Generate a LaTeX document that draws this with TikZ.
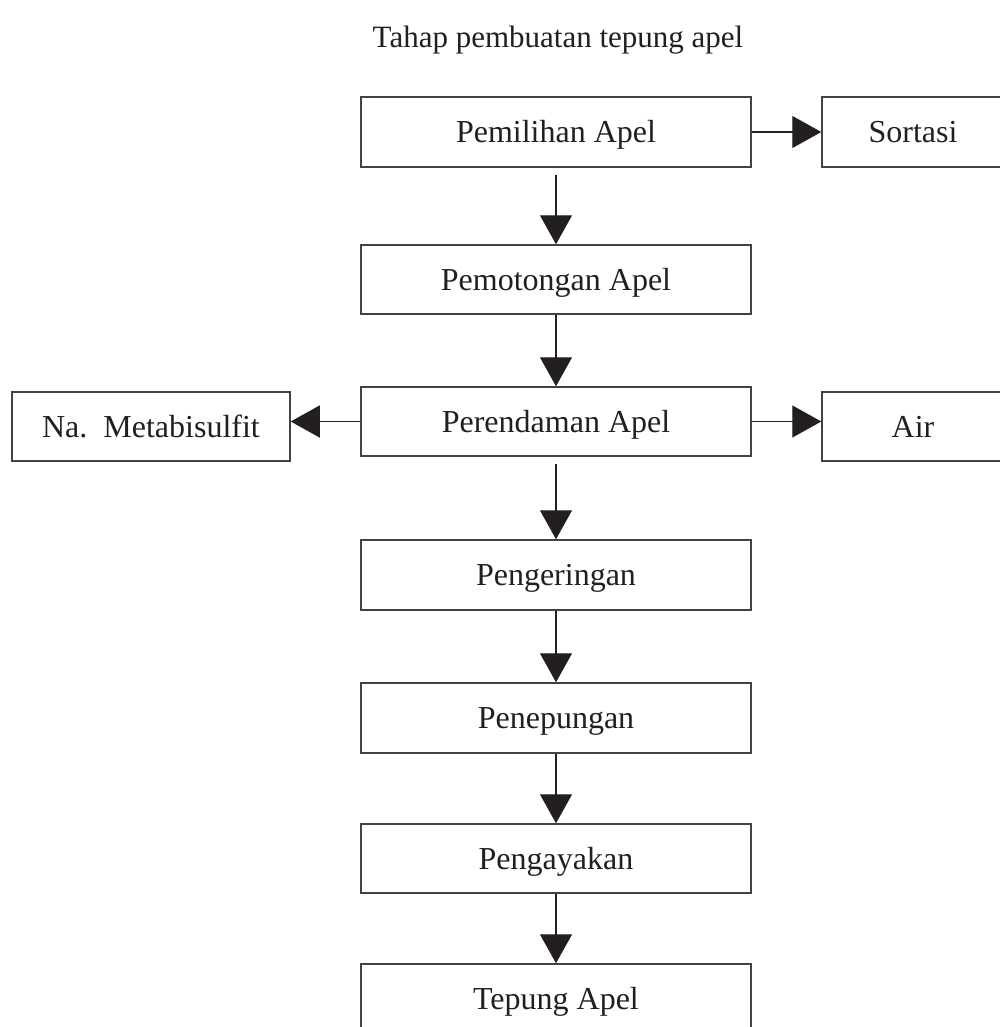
\documentclass[tikz,border=0pt]{standalone}
\usepackage{fontspec}
\setmainfont{Liberation Serif}
\usetikzlibrary{arrows.meta}
\definecolor{ink}{HTML}{231F20}
\begin{document}
\begin{tikzpicture}[x=1pt,y=-1pt,
  box/.style={draw=ink!85, line width=1.5pt, inner sep=0pt, minimum width=390pt, minimum height=70pt, text=ink, text height=21pt, text depth=0pt, font=\fontsize{32}{36}\selectfont},
  sidebox/.style={box, minimum width=182pt},
  flow/.style={draw=ink, line width=1.3pt, -{Triangle[length=29pt,width=32pt]}}]
\useasboundingbox (0,0) rectangle (1000,1027);
\clip (0,0) rectangle (1000,1027);
\fill[white] (0,0) rectangle (1000,1027);
\node[text=ink, font=\fontsize{31}{36}\selectfont] (title) at (558,40) {Tahap pembuatan tepung apel};
\node[box] (pemilihan) at (556,132) {Pemilihan Apel};
\node[sidebox] (sortasi) at (913,132) {Sortasi};
\node[box, minimum height=69pt] (pemotongan) at (556,279.5) {Pemotongan Apel};
\node[box, minimum height=69pt] (perendaman) at (556,421.5) {Perendaman Apel};
\node[box, minimum width=278pt, minimum height=69pt] (na) at (151,426.5) {Na.\ \ Metabisulfit};
\node[sidebox, minimum height=69pt] (air) at (913,426.5) {Air};
\node[box] (pengeringan) at (556,575) {Pengeringan};
\node[box] (penepungan) at (556,718) {Penepungan};
\node[box, minimum height=69pt] (pengayakan) at (556,858.5) {Pengayakan};
\node[box] (tepung) at (556,999) {Tepung Apel};
\draw[flow] (pemilihan.east) -- (sortasi.west);
\draw[flow] ([yshift=-7pt]pemilihan.south) -- (pemotongan.north);
\draw[flow] (pemotongan.south) -- (perendaman.north);
\draw[flow] (perendaman.west) -- (perendaman.west -| na.east);
\draw[flow] (perendaman.east) -- (perendaman.east -| air.west);
\draw[flow] ([yshift=-7pt]perendaman.south) -- (pengeringan.north);
\draw[flow] (pengeringan.south) -- (penepungan.north);
\draw[flow] (penepungan.south) -- (pengayakan.north);
\draw[flow] (pengayakan.south) -- (tepung.north);
\end{tikzpicture}
\end{document}
